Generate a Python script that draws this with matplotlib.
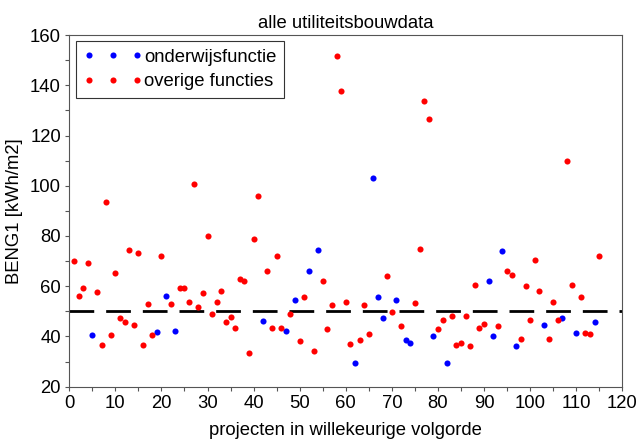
import matplotlib
matplotlib.use("Agg")
import matplotlib.pyplot as plt
from matplotlib.ticker import MultipleLocator

plt.rcParams["font.family"] = ["Liberation Sans", "DejaVu Sans"]

# projects with an education function
onderwijs_nr = [5, 19, 21, 23, 42, 47, 49, 52, 54, 62, 66, 67, 68, 71, 73, 74,
                79, 82, 91, 92, 94, 97, 103, 107, 110, 114]
onderwijs_beng1 = [40.6, 41.8, 56.0, 42.3, 46.3, 42.3, 54.5, 66.0, 74.3, 29.4,
                   103.2, 55.8, 47.5, 54.5, 38.6, 37.4, 40.0, 29.4, 62.2, 40.0,
                   74.0, 36.2, 44.4, 47.5, 41.2, 45.6]

# all other utility building functions
overig_nr = [1, 2, 3, 4, 6, 7, 8, 9, 10, 11, 12, 13, 14, 15, 16, 17, 18, 20, 22,
             24, 25, 26, 27, 28, 29, 30, 31, 32, 33, 34, 35, 36, 37, 38, 39, 40,
             41, 43, 44, 45, 46, 48, 50, 51, 53, 55, 56, 57, 58, 59, 60, 61, 63,
             64, 65, 69, 70, 72, 75, 76, 77, 78, 80, 81, 83, 84, 85, 86, 87, 88,
             89, 90, 93, 95, 96, 98, 99, 100, 101, 102, 104, 105, 106, 108, 109,
             111, 112, 113, 115]
overig_beng1 = [70.0, 56.1, 59.2, 69.2, 57.7, 36.5, 93.4, 40.6, 65.4, 47.5, 45.9,
                74.5, 44.7, 73.1, 36.5, 52.8, 40.6, 72.2, 52.8, 59.4, 59.2, 53.6,
                100.8, 51.6, 57.4, 79.9, 48.8, 53.6, 58.1, 45.6, 47.7, 43.2, 62.7,
                62.1, 33.5, 78.9, 96.0, 66.0, 43.2, 72.2, 43.2, 48.8, 38.2, 55.7,
                34.1, 62.2, 43.0, 52.6, 151.6, 137.7, 53.6, 36.9, 38.4, 52.6, 41.1,
                63.9, 49.7, 44.2, 53.3, 74.8, 133.6, 126.6, 43.0, 46.5, 48.3, 36.5,
                37.5, 48.0, 36.2, 60.3, 43.2, 44.8, 44.2, 66.0, 64.5, 39.1, 60.1,
                46.5, 70.4, 58.1, 38.8, 53.6, 46.7, 109.7, 60.6, 55.7, 41.2, 41.0,
                72.2]

eis_beng1 = 50
fs = 13.3

fig = plt.figure(figsize=(6.38, 4.41), dpi=100)
ax = fig.add_axes([0.1086, 0.1231, 0.8668, 0.7975])

ax.axhline(eis_beng1, color="black", lw=2, linestyle=(0, (8.9, 4.3)), zorder=1)
ax.plot(onderwijs_nr, onderwijs_beng1, "o", color="#0000ff", ms=4.4, mew=0,
        label="onderwijsfunctie", zorder=3)
ax.plot(overig_nr, overig_beng1, "o", color="#ff0000", ms=4.4, mew=0,
        label="overige functies", zorder=3)

ax.set_xlim(0, 120)
ax.set_ylim(20, 160)
ax.xaxis.set_major_locator(MultipleLocator(10))
ax.xaxis.set_minor_locator(MultipleLocator(5))
ax.yaxis.set_major_locator(MultipleLocator(20))
ax.yaxis.set_minor_locator(MultipleLocator(10))
ax.tick_params(which="both", direction="out", length=3, width=0.8,
               color="#555555", labelsize=fs, pad=3)

for sp in ax.spines.values():
    sp.set_color("#555555")
    sp.set_linewidth(0.8)

ax.set_title("alle utiliteitsbouwdata", fontsize=fs, pad=5)
ax.set_xlabel("projecten in willekeurige volgorde", fontsize=fs, labelpad=7)
ax.set_ylabel("BENG1 [kWh/m2]", fontsize=fs, labelpad=5)

leg = ax.legend(loc="upper left", numpoints=3, fontsize=fs, handlelength=3.2,
                handletextpad=0.1, borderaxespad=0.35, borderpad=0.4,
                labelspacing=0.4, fancybox=False, framealpha=1)
leg.get_frame().set_edgecolor("#333333")
leg.get_frame().set_linewidth(0.8)

fig.savefig("out.png", dpi=100)
